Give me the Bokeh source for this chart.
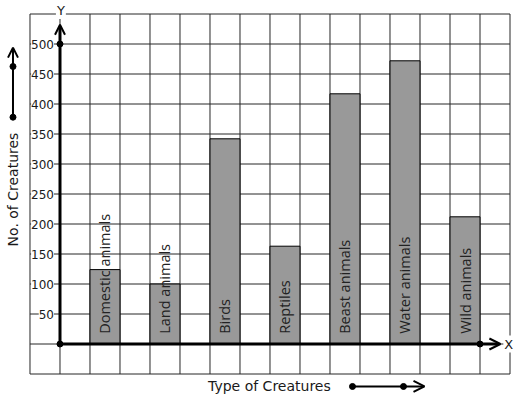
import numpy as np
from math import pi
from bokeh.plotting import figure
from bokeh.models import Range1d, Arrow, OpenHead
from bokeh.core.properties import value
from bokeh.embed import file_html
from bokeh.resources import INLINE

# ---- data ----
categories = ["Domestic animals", "Land animals", "Birds", "Reptiles",
              "Beast animals", "Water animals", "Wild animals"]
counts = [124, 100, 342, 163, 417, 472, 212]
ytick_values = [500, 450, 400, 350, 300, 250, 200, 150, 100, 50]
ytick_labels = ["500", "450", "400", "350", "300", "250", "200", "150", "100", "50"]
x_title = "Type of Creatures"
y_title = "No. of Creatures"

# ---- layout ----
p = figure(width=517, height=399,
           x_range=Range1d(-1.98333, 15.25), y_range=Range1d(-92.5, 572.5),
           output_backend="svg", toolbar_location=None,
           x_axis_type=None, y_axis_type=None,
           min_border=0, min_border_left=0, min_border_right=0,
           min_border_top=0, min_border_bottom=0,
           outline_line_color=None, background_fill_color="white",
           border_fill_color="white")

grid_color = "#262626"
x_lo, x_hi = -1, 2 * len(categories) + 1
y_lo, y_hi = -50, 550
gx = np.arange(x_lo, x_hi + 1)
gy = np.arange(y_lo, y_hi + 1, 50)
p.segment(x0=gx, y0=y_lo, x1=gx, y1=y_hi, line_color=grid_color, line_width=1)
p.segment(x0=x_lo, y0=gy, x1=x_hi, y1=gy, line_color=grid_color, line_width=1)

# bars
centers = [2 * i + 1.5 for i in range(len(categories))]
p.vbar(x=centers, top=counts, bottom=0, width=1,
       fill_color="#999999", line_color="black", line_width=1)

# axes with arrows
p.add_layout(Arrow(end=OpenHead(size=10, line_width=2, line_color="black"),
                   x_start=0, y_start=0, x_end=0, y_end=532,
                   line_width=3, line_color="black"))
p.add_layout(Arrow(end=OpenHead(size=11, line_width=2, line_color="black"),
                   x_start=0, y_start=0, x_end=14.68, y_end=0,
                   line_width=3, line_color="black"))
p.scatter(x=[0, 0, 14], y=[0, 500, 0], size=6, color="black")

# y tick labels
p.text(x=-0.2, y=ytick_values, text=ytick_labels,
       text_font=value("DejaVu Sans"), text_font_size="12px",
       text_color="#1a1a1a", text_align="right", text_baseline="middle",
       background_fill_color="white", padding=0)

# bar labels
p.text(x=centers, y=17, text=categories, angle=pi / 2,
       text_font=value("Open Sans"), text_font_size="14.5px",
       text_color="#222222", text_align="left", text_baseline="middle")

# axis letters
p.text(x=[0.03], y=[555.8], text=["Y"], text_font=value("DejaVu Sans"),
       text_font_size="13px", text_color="#1a1a1a", text_align="center",
       text_baseline="middle", background_fill_color="white", padding=1)
p.text(x=[14.96], y=[0], text=["X"], text_font=value("DejaVu Sans"),
       text_font_size="13px", text_color="#1a1a1a", text_align="center",
       text_baseline="middle", background_fill_color="white", padding=1)

# titles
p.text(x=[-1.56], y=[257.5], text=[y_title], angle=pi / 2,
       text_font=value("DejaVu Sans"), text_font_size="14px",
       text_color="#1a1a1a", text_align="center", text_baseline="middle")
p.text(x=[6.98], y=[-70], text=[x_title],
       text_font=value("DejaVu Sans"), text_font_size="14px",
       text_color="#1a1a1a", text_align="center", text_baseline="middle")

# title arrows
p.add_layout(Arrow(end=OpenHead(size=10, line_width=2, line_color="black"),
                   x_start=-1.567, y_start=378, x_end=-1.567, y_end=494,
                   line_width=2, line_color="black"))
p.scatter(x=[-1.567, -1.567], y=[378, 462.5], size=6, color="black")
p.add_layout(Arrow(end=OpenHead(size=11, line_width=2, line_color="black"),
                   x_start=9.75, y_start=-70.8, x_end=12.15, y_end=-70.8,
                   line_width=2, line_color="black"))
p.scatter(x=[9.75, 11.45], y=[-70.8, -70.8], size=6, color="black")

open("out.html", "w").write(file_html(p, INLINE))
